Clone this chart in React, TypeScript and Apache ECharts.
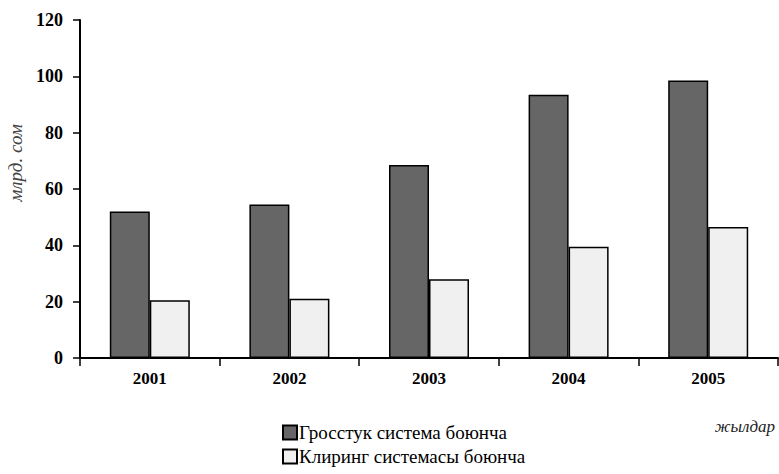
import React, { useEffect, useRef } from "react";
import * as echarts from "echarts";

const years = ["2001", "2002", "2003", "2004", "2005"];
const grossValues = [52, 54.5, 68.5, 93.5, 98.5];
const clearingValues = [20.5, 21, 28, 39.5, 46.5];
const seriesNames = ["Гросстук система боюнча", "Клиринг системасы боюнча"];
const yAxisTitle = "млрд. сом";
const xAxisTitle = "жылдар";

const FONT = "Liberation Serif";

const legendBase = {
  orient: "horizontal",
  left: 282,
  itemWidth: 14,
  itemHeight: 14,
  padding: 0,
  icon: "rect",
  textStyle: { fontFamily: FONT, fontSize: 19, color: "#000", padding: [0, 0, 0, -3] },
};

export default function App() {
  const ref = useRef<HTMLDivElement>(null);
  useEffect(() => {
    if (!ref.current) return;
    const chart = echarts.init(ref.current, undefined, { renderer: "svg" });
    chart.setOption({
      animation: false,
      backgroundColor: "#ffffff",
      textStyle: { fontFamily: FONT },
      grid: { left: 80, right: 1, top: 20, bottom: 116, containLabel: false, outerBoundsMode: "none" },
      legend: [
        { ...legendBase, top: 423, data: [seriesNames[0]] },
        { ...legendBase, top: 447, data: [seriesNames[1]] },
      ],
      xAxis: {
        type: "category",
        data: years,
        name: xAxisTitle,
        nameLocation: "end",
        nameGap: 0,
        nameTextStyle: {
          fontFamily: FONT,
          fontStyle: "italic",
          fontSize: 17,
          color: "#222",
          align: "right",
          verticalAlign: "top",
          padding: [60, 3, 0, 0],
        },
        axisLine: { show: true, lineStyle: { color: "#000", width: 2 } },
        axisTick: { show: true, length: 8, lineStyle: { color: "#000", width: 1.5 } },
        axisLabel: { fontFamily: FONT, fontWeight: "bold", fontSize: 17, color: "#000", margin: 12 },
      },
      yAxis: {
        type: "value",
        min: 0,
        max: 120,
        interval: 20,
        name: yAxisTitle,
        nameLocation: "middle",
        nameGap: 52,
        nameRotate: 90,
        nameTextStyle: {
          fontFamily: FONT,
          fontStyle: "italic",
          fontSize: 19,
          color: "#444",
          padding: [0, 0, 0, 52],
        },
        splitLine: { show: false },
        axisLine: { show: true, lineStyle: { color: "#000", width: 2 } },
        axisTick: { show: true, length: 7, lineStyle: { color: "#000", width: 1.5 } },
        axisLabel: { fontFamily: FONT, fontWeight: "bold", fontSize: 18, color: "#000", margin: 17 },
      },
      series: [
        {
          name: seriesNames[0],
          type: "bar",
          data: grossValues,
          barWidth: 40,
          barGap: "0%",
          itemStyle: { color: "#666666", borderColor: "#000", borderWidth: 1.5 },
        },
        {
          name: seriesNames[1],
          type: "bar",
          data: clearingValues,
          barWidth: 40,
          barGap: "0%",
          itemStyle: { color: "#f0f0f0", borderColor: "#000", borderWidth: 1.5 },
        },
      ],
    });
    return () => chart.dispose();
  }, []);
  return <div ref={ref} style={{ width: 779, height: 474, position: "absolute", left: 0, top: 0 }} />;
}
